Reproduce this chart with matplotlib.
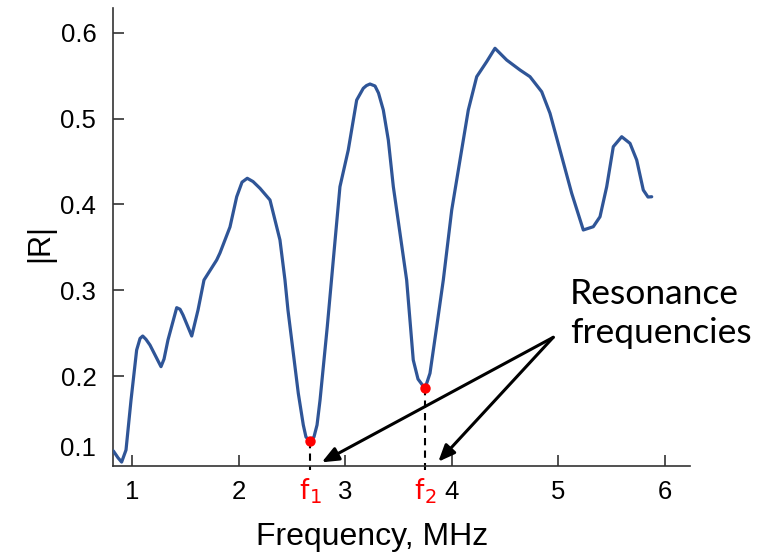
import matplotlib
matplotlib.use("Agg")
import matplotlib.pyplot as plt
from matplotlib.transforms import ScaledTranslation

# ---- data ----
freq = [0.824, 0.868, 0.902, 0.943, 0.990, 1.043, 1.075, 1.100, 1.130, 1.168, 1.2715, 1.300, 1.337,
        1.419, 1.450, 1.478, 1.560, 1.619, 1.675, 1.794, 1.825, 1.919, 1.982, 2.032,
        2.081, 2.135, 2.2006, 2.2945, 2.388, 2.435, 2.463, 2.560, 2.607, 2.632,
        2.670, 2.707, 2.736, 2.764, 2.832, 2.8885, 2.951, 3.029, 3.108, 3.170, 3.2001,
        3.233, 3.280, 3.3128, 3.358, 3.405, 3.452, 3.5146, 3.577, 3.639, 3.6835, 3.749,
        3.796, 3.859, 3.921, 4.000, 4.0777, 4.1556, 4.2344, 4.328, 4.406, 4.516,
        4.641, 4.7346, 4.8444, 4.9223, 5.016, 5.126, 5.235, 5.3287, 5.3916, 5.4545,
        5.5164, 5.5953, 5.6732, 5.736, 5.798, 5.842, 5.877]
refl = [0.113, 0.105, 0.100, 0.114, 0.172, 0.2305, 0.2440, 0.2468, 0.2430, 0.2363, 0.2111, 0.2200, 0.2422,
        0.2798, 0.2780, 0.2713, 0.2468, 0.2771, 0.312, 0.3353, 0.3435, 0.3738, 0.409, 0.426,
        0.4305, 0.4267, 0.4188, 0.4052, 0.3586, 0.312, 0.2771, 0.1801, 0.1432, 0.1292,
        0.1245, 0.1292, 0.1432, 0.172, 0.2576, 0.3353, 0.4207, 0.4634, 0.5216, 0.5353, 0.5385,
        0.5403, 0.538, 0.5298, 0.510, 0.475, 0.4207, 0.3664, 0.312, 0.2189, 0.1967, 0.1857,
        0.2034, 0.2576, 0.312, 0.3935, 0.4518, 0.510, 0.5488, 0.5663, 0.5819, 0.5682,
        0.5566, 0.5488, 0.5313, 0.5062, 0.4634, 0.413, 0.3703, 0.3741, 0.3857, 0.4207,
        0.4673, 0.4789, 0.4712, 0.4518, 0.4168, 0.4087, 0.409]

res_freq = [2.670, 3.749]
res_refl = [0.1245, 0.1857]
res_labels = ["f$_1$", "f$_2$"]

xticks = [1, 2, 3, 4, 5, 6]
yticks = [0.1, 0.2, 0.3, 0.4, 0.5, 0.6]

annot_text = "Resonance\nfrequencies"
annot_origin = (4.953, 0.2453)
annot_text_pos = (5.108, 0.2730)
arrow_targets = [(2.780, 0.0997), (3.874, 0.1004)]

# ---- figure ----
fig = plt.figure(figsize=(7.64, 5.53), dpi=100)
ax = fig.add_axes([0.1479, 0.1573, 0.9031 - 0.1479, 0.9855 - 0.1573])

line_color = "#2F5597"
ax.plot(freq, refl, color=line_color, lw=2.3, solid_capstyle="round",
        solid_joinstyle="round", zorder=3)

ax.set_xlim(0.821, 6.236)
ax.set_ylim(0.0954, 0.6288)

for s in ["top", "right"]:
    ax.spines[s].set_visible(False)
for s in ["left", "bottom"]:
    ax.spines[s].set_color("#333333")
    ax.spines[s].set_linewidth(1.2)

ax.set_xticks(xticks)
ax.set_yticks(yticks)
ax.set_xticklabels([str(t) for t in xticks])
ax.set_yticklabels([f"{t:.1f}" for t in yticks])
ax.tick_params(axis="both", direction="in", length=8, width=1.2, color="#333333",
               labelsize=18.5, labelcolor="black")
ax.tick_params(axis="x", pad=10)
ax.tick_params(axis="y", pad=12)
for lbl in ax.get_xticklabels() + ax.get_yticklabels():
    lbl.set_family("Liberation Sans")

# shift the 0.1 label up as in the reference and hide its tick mark
t0 = ax.yaxis.get_major_ticks()[0]
t0.tick1line.set_visible(False)
t0.label1.set_transform(t0.label1.get_transform() +
                        ScaledTranslation(0, 16 / 100, fig.dpi_scale_trans))

ax.set_xlabel("Frequency, MHz", fontsize=23, family="Liberation Sans")
ax.xaxis.set_label_coords((371.7 - 113) / (690 - 113), (466 - 537) / (466 - 8))
ax.set_ylabel("|R|", fontsize=22, family="Liberation Sans")
ax.yaxis.set_label_coords((40 - 113) / (690 - 113), (466 - 243) / (466 - 8))
ax.xaxis.label.set_va("center")
ax.yaxis.label.set_va("center")

# resonance markers
for xf, yf, lab in zip(res_freq, res_refl, res_labels):
    ax.plot([xf, xf], [yf, 0.0905], color="black", lw=1.5, ls=(0, (3.5, 2.5)),
            clip_on=False, zorder=2)
    ax.plot([xf], [yf], "o", color="#FF0000", ms=7.5, mec="none", zorder=4,
            clip_on=False)
    ax.annotate(lab, xy=(xf, 0.0954), xytext=(0, -18), textcoords="offset points",
                ha="center", va="center", color="#FF0000", fontsize=20,
                family="Lato", annotation_clip=False)

# annotation arrows
for tx, ty in arrow_targets:
    ax.annotate("", xy=(tx, ty), xytext=annot_origin,
                arrowprops=dict(arrowstyle="-|>,head_length=1.0,head_width=0.42",
                                color="black", lw=2.2, shrinkA=0, shrinkB=0),
                annotation_clip=False, zorder=5)

ax.text(annot_text_pos[0], annot_text_pos[1], annot_text, fontsize=25.5, family="Lato",
        ha="left", va="center", linespacing=1.3)

fig.savefig("out.png", dpi=100)
